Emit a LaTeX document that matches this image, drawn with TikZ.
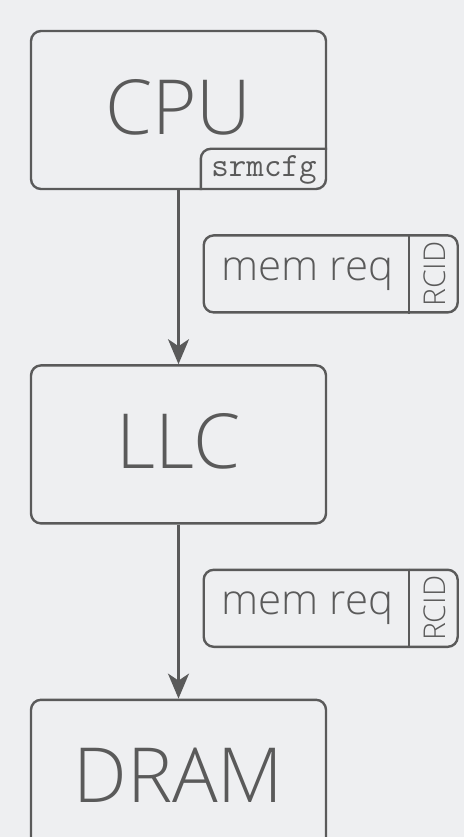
\documentclass[tikz,border=0pt]{standalone}
\usepackage{fontspec}
\setmainfont{Open Sans}[UprightFont={* Light}]
\usetikzlibrary{positioning,arrows.meta,calc}
\definecolor{ink}{HTML}{5A5A5A}
\definecolor{paper}{HTML}{EEEFF1}

\begin{document}
\begin{tikzpicture}[x=1pt,y=1pt,
  node distance=174pt,
  unit/.style={draw=ink,line width=2.4pt,rounded corners=10pt,minimum width=295pt,minimum height=158pt,
    inner sep=0pt,text=ink,text depth=7pt,font=\fontsize{76}{76}\selectfont},
  reg/.style={minimum width=126pt,minimum height=41pt,inner sep=0pt,text=ink,font=\ttfamily\fontsize{34}{34}\selectfont},
  req/.style={draw=ink,line width=2.4pt,rounded corners=10pt,minimum width=254pt,minimum height=77pt,inner sep=0pt},
  reqlbl/.style={text=ink,inner sep=0pt,font=\fontsize{42}{42}\selectfont},
  tag/.style={text=ink,inner sep=0pt,rotate=90,font=\fontsize{30}{30}\selectfont},
  ar/.style={-{Stealth[length=25pt,width=21pt,inset=7pt]},draw=ink,line width=2.4pt},
]
  \fill[paper] (0,0) rectangle (464,-837);
  \useasboundingbox (0,0) rectangle (464,-837);
  \clip (0,0) rectangle (464,-837);
  % units
  \node[unit] (cpu) at (178.5,-110) {CPU};
  \node[unit,below=of cpu] (llc) {LLC};
  \node[unit,below=of llc] (dram) {DRAM};
  % srmcfg register in the cpu corner
  \node[reg,anchor=south east] (srm) at (cpu.south east) {srmcfg};
  \draw[ink,line width=2.4pt,rounded corners=10pt] (srm.south west) -- (srm.north west) -- (srm.north east);
  % requests
  \node[req,below right=44pt and 24pt of cpu.south] (req1) {};
  \node[reqlbl] (lbl1) at ($(req1.west)!0.41!(req1.east)$) {mem req};
  \draw[ink,line width=2.4pt] ($(req1.north east)+(-50pt,0)$) -- ($(req1.south east)+(-50pt,0)$);
  \node[tag] (rcid1) at ($(req1.east)+(-24pt,0)$) {RCID};
  \node[req,below right=44pt and 24pt of llc.south] (req2) {};
  \node[reqlbl] (lbl2) at ($(req2.west)!0.41!(req2.east)$) {mem req};
  \draw[ink,line width=2.4pt] ($(req2.north east)+(-50pt,0)$) -- ($(req2.south east)+(-50pt,0)$);
  \node[tag] (rcid2) at ($(req2.east)+(-24pt,0)$) {RCID};
  % arrows
  \draw[ar] (cpu) -- (llc);
  \draw[ar] (llc) -- (dram);
\end{tikzpicture}
\end{document}
